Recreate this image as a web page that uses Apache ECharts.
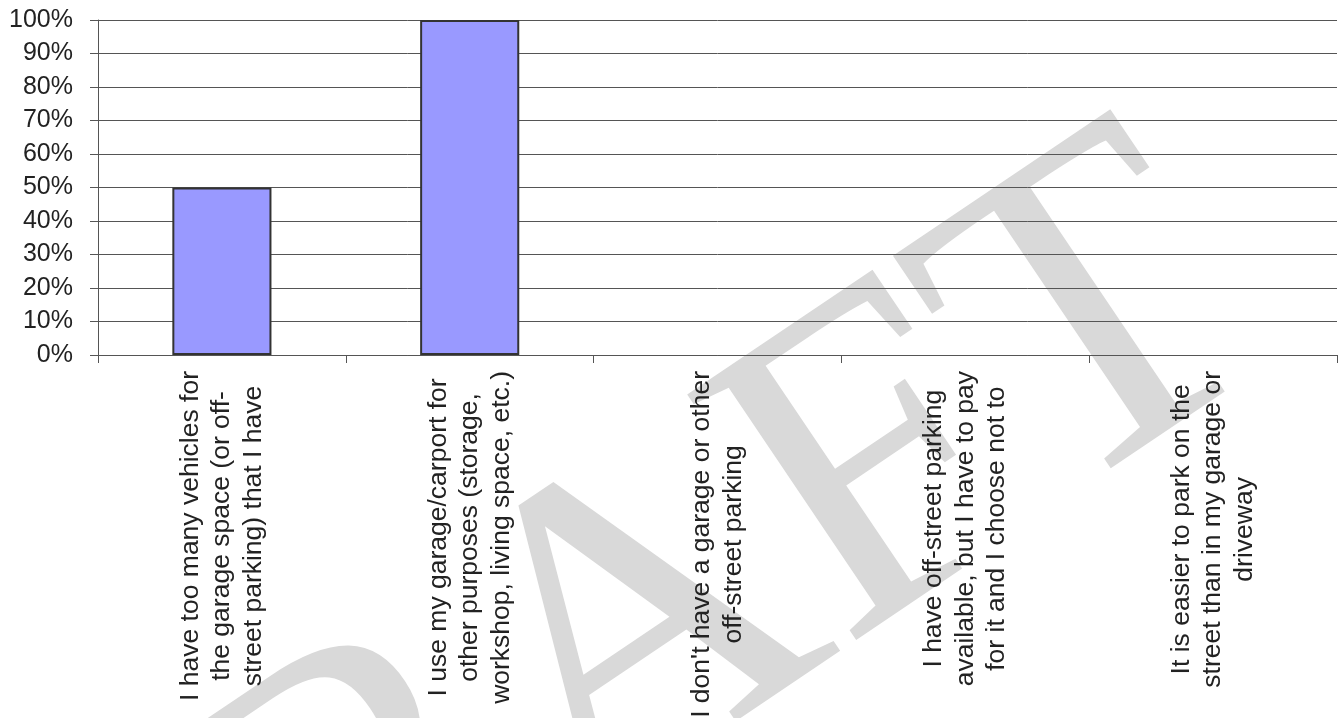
<!DOCTYPE html>
<html>
<head>
<meta charset="utf-8">
<script src="https://cdn.jsdelivr.net/npm/echarts/dist/echarts.min.js"></script>
<style>
html,body{margin:0;padding:0;background:#fff;}
#chart{width:1343px;height:718px;}
</style>
</head>
<body>
<div id="chart"></div>
<script>
var categories = [
  "I have too many vehicles for\nthe garage space (or off-\nstreet parking) that I have",
  "I use my garage/carport for\nother purposes (storage,\nworkshop, living space, etc.)",
  "I don't have a garage or other\noff-street parking",
  "I have off-street parking\navailable, but I have to pay\nfor it and I choose not to",
  "It is easier to park on the\nstreet than in my garage or\ndriveway"
];
var values = [50, 100, 0, 0, 0];
var yTicks = { min: 0, max: 100, interval: 10 };
var watermarkText = "DRAFT";

var chart = echarts.init(document.getElementById('chart'), null, {renderer: 'canvas'});
chart.setOption({
  animation: false,
  backgroundColor: '#ffffff',
  grid: { left: 98, right: 6, top: 20, bottom: 363, containLabel: false, outerBoundsMode: 'none' },
  graphic: [{
    type: 'text',
    z: -10,
    x: 598, y: 670,
    rotation: 34 * Math.PI / 180,
    silent: true,
    style: {
      text: watermarkText,
      fontFamily: '"Liberation Serif", "DejaVu Serif", serif',
      fontSize: 455,
      fill: '#d9d9d9',
      align: 'center',
      verticalAlign: 'middle'
    }
  }],
  xAxis: {
    type: 'category',
    data: categories,
    boundaryGap: true,
    axisLine: { show: true, lineStyle: { color: '#555', width: 1 } },
    axisTick: { show: true, length: 8, alignWithLabel: false, lineStyle: { color: '#555', width: 1 } },
    axisLabel: {
      interval: 0,
      rotate: 90,
      margin: 16,
      formatter: function (v) {
        return v.split('\n').map(function (l) { return '{c|' + l + '}'; }).join('\n');
      },
      rich: {
        c: { fontFamily: '"Liberation Sans", Arial, sans-serif', fontSize: 26.5, lineHeight: 31.5, color: '#222', align: 'center' }
      }
    },
    splitLine: { show: false }
  },
  yAxis: {
    type: 'value',
    min: yTicks.min, max: yTicks.max, interval: yTicks.interval,
    axisLine: { show: true, lineStyle: { color: '#555', width: 1 } },
    axisTick: { show: true, length: 8, lineStyle: { color: '#555', width: 1 } },
    axisLabel: {
      formatter: '{value}%',
      margin: 25,
      fontFamily: '"Liberation Sans", Arial, sans-serif',
      fontSize: 25,
      color: '#222'
    },
    splitLine: { show: true, lineStyle: { color: '#555', width: 1 } }
  },
  series: [{
    type: 'bar',
    data: values.map(function (v) {
      return v === 0 ? { value: v, itemStyle: { borderWidth: 0 } } : v;
    }),
    barWidth: '40%',
    itemStyle: { color: '#9999FF', borderColor: '#333', borderWidth: 2 }
  }]
});
</script>
</body>
</html>
